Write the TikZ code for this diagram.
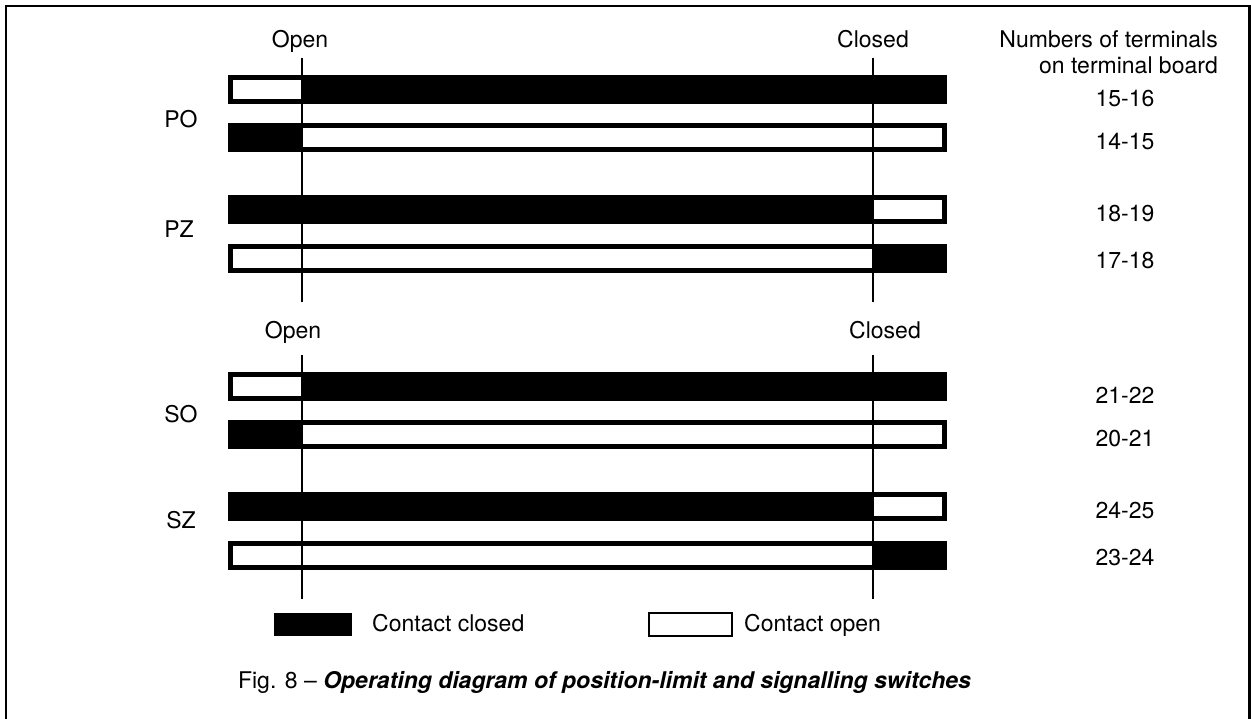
\documentclass[tikz,border=0pt]{standalone}
\usepackage{fontspec}
\setmainfont{TeX Gyre Heros}
\begin{document}
\begin{tikzpicture}[x=1pt,y=-1pt,
  lbl/.style={font=\fontsize{23}{27}\selectfont, inner sep=0pt},
  frame/.style={line width=2.5pt},
  posline/.style={line width=1.5pt},
  legendopen/.style={draw, line width=1.2pt, fill=white}]
\useasboundingbox (0,0) rectangle (1251,718);
\fill[white] (0,0) rectangle (1251,718);
\draw[frame] (6,720) -- (6,6) -- (1249.5,6) -- (1249.5,720);
% row types: A white left part, B black left part, C white right part, D black right part
\foreach \t in {75,372}{
  \fill (228,\t) rectangle (947,\t+29);
  \fill[white] (233,\t+5) rectangle (302,\t+24);
}
\foreach \t in {123,420}{
  \fill (228,\t) rectangle (947,\t+29);
  \fill[white] (302,\t+5) rectangle (942,\t+24);
}
\foreach \t in {195,492}{
  \fill (228,\t) rectangle (947,\t+29);
  \fill[white] (873,\t+5) rectangle (942,\t+24);
}
\foreach \t in {244,541}{
  \fill (228,\t) rectangle (947,\t+29);
  \fill[white] (233,\t+5) rectangle (873,\t+24);
}
% position lines
\coordinate (o1t) at (302,58);  \coordinate (o1b) at (302,302);
\coordinate (c1t) at (873,58);  \coordinate (c1b) at (873,302);
\coordinate (o2t) at (302,355); \coordinate (o2b) at (302,599);
\coordinate (c2t) at (873,355); \coordinate (c2b) at (873,599);
\draw[posline] (o1t) -- (o1b);
\draw[posline] (c1t) -- (c1b);
\draw[posline] (o2t) -- (o2b);
\draw[posline] (c2t) -- (c2b);
% labels
\node[lbl,anchor=base] (open1) at (300,47) {Open};
\node[lbl,anchor=base] (closed1) at (873,47) {Closed};
\node[lbl,anchor=base east] (num1) at (1218,47) {Numbers of terminals};
\node[lbl,anchor=base east] (num2) at (1218,73) {on terminal board};
\node[lbl,anchor=base] (t1516) at (1125,106) {15-16};
\node[lbl,anchor=base] (t1415) at (1125,149) {14-15};
\node[lbl,anchor=base] (t1819) at (1125,221.5) {18-19};
\node[lbl,anchor=base] (t1718) at (1125,268.5) {17-18};
\node[lbl,anchor=base] (open2) at (293,338) {Open};
\node[lbl,anchor=base] (closed2) at (885,338) {Closed};
\node[lbl,anchor=base] (t2122) at (1125,403) {21-22};
\node[lbl,anchor=base] (t2021) at (1125,446) {20-21};
\node[lbl,anchor=base] (t2425) at (1125,518.5) {24-25};
\node[lbl,anchor=base] (t2324) at (1125,565.5) {23-24};
\node[lbl,anchor=base] (po) at (181,127) {PO};
\node[lbl,anchor=base] (pz) at (179,237) {PZ};
\node[lbl,anchor=base] (so) at (181,422) {SO};
\node[lbl,anchor=base] (sz) at (181,528) {SZ};
% legend
\fill (274,613) rectangle (352,636);
\node[lbl,anchor=base west] (lclosed) at (372,631) {Contact closed};
\draw[legendopen] (649,613) rectangle (732,636);
\node[lbl,anchor=base west] (lopen) at (744,631) {Contact open};
% caption
\node[lbl,anchor=base] (cap) at (604.5,688) {Fig. 8 -- \textbf{\textit{Operating diagram of position-limit and signalling switches}}};
\end{tikzpicture}
\end{document}
